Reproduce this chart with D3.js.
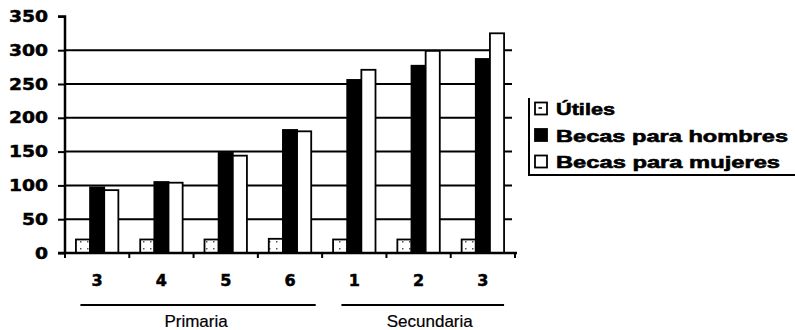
<!DOCTYPE html>
<html><head><meta charset="utf-8">
<script src="https://cdn.jsdelivr.net/npm/d3@7"></script>
<style>body{margin:0;background:#fff}svg{display:block}</style>
</head><body>
<svg id="c" width="795" height="330"></svg>
<script>
const categories = ["3","4","5","6","1","2","3"];
const seriesNames = ["Útiles","Becas para hombres","Becas para mujeres"];
const utiles = [20,20,20,21,20,20,20];
const hombres = [97,105,148,182,256,277,287];
const mujeres = [93,104,144,180,271,299,325];
const yTicks = [0,50,100,150,200,250,300,350];
const groupNames = ["Primaria","Secundaria"];
const groupFrom = [0,4];
const groupTo = [3,6];

const svg = d3.select("#c");
const defs = svg.append("defs");
const pat = defs.append("pattern").attr("id","dots").attr("patternUnits","userSpaceOnUse")
  .attr("width",7).attr("height",7);
pat.append("rect").attr("width",7).attr("height",7).attr("fill","#fff");
pat.append("rect").attr("x",3).attr("y",3).attr("width",1.5).attr("height",1.5).attr("fill","#555");

const x0 = 65, x1 = 515, yBase = 253, yTop = 16.4;
const x = d3.scaleBand().domain(d3.range(categories.length)).range([x0,x1]).padding(0);
const bw = x.bandwidth();
const xs = d3.scaleBand().domain([0,1,2]).range([bw*0.17, bw*0.83]).padding(0);
const y = d3.scaleLinear().domain([0,350]).range([yBase,yTop]);

// gridlines
svg.append("g").selectAll("line").data(yTicks.filter(t=>t>0 && t<350)).join("line")
  .attr("x1",x0).attr("x2",x1-3).attr("y1",d=>y(d)).attr("y2",d=>y(d))
  .attr("stroke","#000").attr("stroke-width",2);

// y axis
const yAxis = svg.append("g").attr("transform",`translate(${x0},0)`)
  .call(d3.axisLeft(y).tickValues(yTicks).tickSize(7).tickPadding(10));
yAxis.select(".domain").attr("stroke","#000").attr("stroke-width",2.5).attr("d",`M-7,${y(350)}H0V${yBase}`);
yAxis.selectAll(".tick line").attr("stroke","#000").attr("stroke-width",2);
yAxis.selectAll(".tick text").attr("font-size",16).attr("font-weight","bold")
  .attr("font-family","DejaVu Sans").attr("fill","#000").attr("stroke","#000").attr("stroke-width",0.5)
  .attr("textLength",function(){return this.textContent.length*13;})
  .attr("lengthAdjust","spacingAndGlyphs");

// bars
const fills = ["url(#dots)","#000","#fff"];
const data = [utiles,hombres,mujeres];
categories.forEach((c,i)=>{
  data.forEach((s,k)=>{
    svg.append("rect")
      .attr("x",x(i)+xs(k)).attr("width",xs.bandwidth())
      .attr("y",y(s[i])).attr("height",yBase-y(s[i]))
      .attr("fill",fills[k]).attr("stroke","#000").attr("stroke-width",1.8);
  });
});

// x axis
svg.append("line").attr("x1",x0-7).attr("x2",x1+2).attr("y1",yBase).attr("y2",yBase)
  .attr("stroke","#000").attr("stroke-width",2.5);
svg.append("g").selectAll("line").data(d3.range(categories.length+1)).join("line")
  .attr("x1",d=>x0+d*bw).attr("x2",d=>x0+d*bw).attr("y1",yBase).attr("y2",yBase+5)
  .attr("stroke","#000").attr("stroke-width",2);
svg.append("g").selectAll("text").data(categories).join("text")
  .attr("x",(d,i)=>x(i)+bw/2).attr("y",286).attr("text-anchor","middle")
  .attr("font-family","DejaVu Sans").attr("font-size",16).attr("font-weight","bold")
  .attr("stroke","#000").attr("stroke-width",0.5).text(d=>d);

// group labels
const startFrac = [0.24,0.3], endFrac = [0.9,0.83], textShift = [-2,7];
groupNames.forEach((g,j)=>{
  const gx1 = x(groupFrom[j])+bw*startFrac[j], gx2 = x(groupTo[j])+bw*endFrac[j];
  svg.append("line").attr("x1",gx1).attr("x2",gx2).attr("y1",305).attr("y2",305)
    .attr("stroke","#000").attr("stroke-width",2);
  svg.append("text").attr("x",(gx1+gx2)/2+textShift[j]).attr("y",327).attr("text-anchor","middle")
    .attr("font-family","Liberation Sans").attr("font-size",17).attr("stroke","#000").attr("stroke-width",0.2).text(g);
});

// legend
const lg = svg.append("g");
lg.append("path").attr("d","M529,98V175H800").attr("fill","none").attr("stroke","#000").attr("stroke-width",2);
const legendW = [59,232,224];
seriesNames.forEach((n,k)=>{
  const base = 115 + k*26.5;
  lg.append("rect").attr("x",535).attr("y",base-12.5).attr("width",12).attr("height",12)
    .attr("fill",k===0?"#fff":fills[k]).attr("stroke","#000").attr("stroke-width",1.8);
  if(k===0) lg.append("rect").attr("x",538.5).attr("y",base-8).attr("width",3.5).attr("height",2).attr("fill","#333");
  lg.append("text").attr("x",556).attr("y",base).attr("font-size",17).attr("font-weight","bold")
    .attr("font-family","Liberation Sans").attr("stroke","#000").attr("stroke-width",0.6)
    .attr("textLength",legendW[k]).attr("lengthAdjust","spacingAndGlyphs").text(n);
});
</script>
</body></html>
